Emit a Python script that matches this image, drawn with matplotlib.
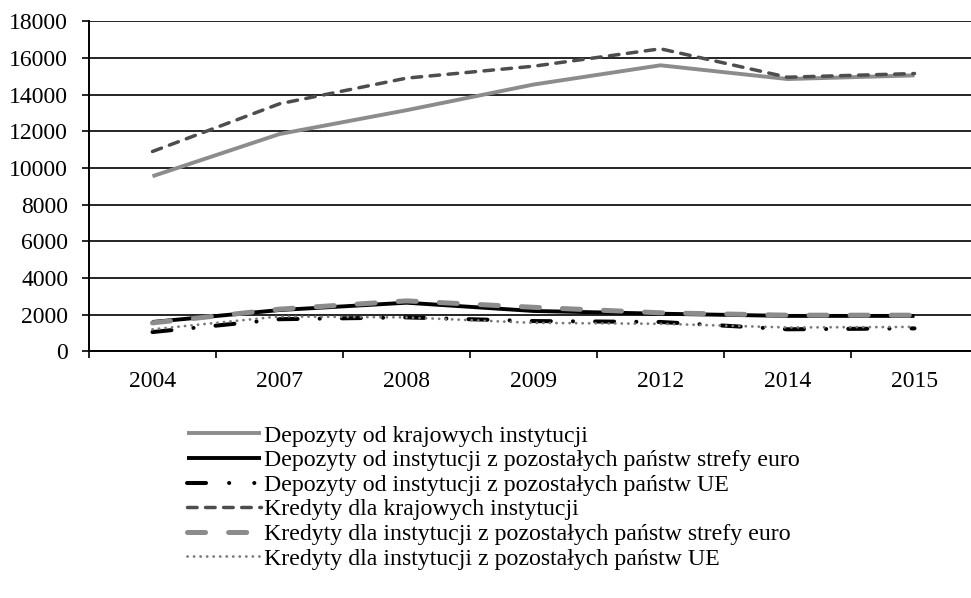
import numpy as np
import matplotlib
matplotlib.use("Agg")
import matplotlib.pyplot as plt

plt.rcParams['font.family'] = ['Liberation Serif', 'DejaVu Serif']
plt.rcParams['lines.scale_dashes'] = False

# data
years = ['2004', '2007', '2008', '2009', '2012', '2014', '2015']
dep_kraj = [9550, 11850, 13150, 14550, 15600, 14850, 15050]
dep_euro = [1600, 2250, 2650, 2200, 2050, 1930, 1930]
dep_ue = [1050, 1750, 1850, 1650, 1600, 1200, 1250]
kred_kraj = [10900, 13500, 14900, 15550, 16500, 14950, 15150]
kred_euro = [1550, 2300, 2750, 2400, 2100, 1970, 1970]
kred_ue = [1200, 1900, 1850, 1550, 1500, 1300, 1330]

labels = ['Depozyty od krajowych instytucji',
          'Depozyty od instytucji z pozostałych państw strefy euro',
          'Depozyty od instytucji z pozostałych państw UE',
          'Kredyty dla krajowych instytucji',
          'Kredyty dla instytucji z pozostałych państw strefy euro',
          'Kredyty dla instytucji z pozostałych państw UE']

fig = plt.figure(figsize=(9.71, 5.98), dpi=100)
ax = fig.add_axes([89/971, 1-351.3/598, 889/971, 330/598])

x = np.arange(len(years))

ax.plot(x, dep_kraj, color='#8c8c8c', lw=2.8, solid_capstyle='butt', label=labels[0])
ax.plot(x, dep_euro, color='black', lw=2.8, solid_capstyle='butt', label=labels[1])
ax.plot(x, dep_ue, color='black', lw=2.9, dash_capstyle='round',
        linestyle=(0, (13.7, 15.9, 0.1, 15.9)), label=labels[2])
ax.plot(x, kred_kraj, color='#4d4d4d', lw=2.5, dash_capstyle='round',
        linestyle=(0, (6.9, 6.1)), label=labels[3])
ax.plot(x, kred_euro, color='#8c8c8c', lw=3.6, dash_capstyle='round',
        linestyle=(0, (13.0, 16.6)), label=labels[4])
ax.plot(x, kred_ue, color='#7a7a7a', lw=2.0, dash_capstyle='round',
        linestyle=(0, (0.1, 4.6)), label=labels[5])

ax.set_xlim(-0.5, 6.5)
ax.set_ylim(0, 18000)
ax.set_yticks(np.arange(0, 18001, 2000))
ax.set_xticks(x)
ax.set_xticklabels(years)
ax.set_xticks(np.arange(-0.5, 7, 1), minor=True)
ax.tick_params(axis='x', which='major', length=0, pad=14, labelsize=17)
ax.tick_params(axis='x', which='minor', length=5, width=1.2, direction='out')
ax.tick_params(axis='y', length=5, width=1.2, pad=10, labelsize=17)

ax.yaxis.grid(True, color='black', lw=1.2)
ax.set_axisbelow(True)
for s in ['top', 'right']:
    ax.spines[s].set_visible(False)
ax.spines['left'].set_linewidth(1.4)
ax.spines['bottom'].set_linewidth(1.4)

leg = fig.legend(loc='upper left', bbox_to_anchor=(187/971, 1-425/598),
                 frameon=False, fontsize=17.2, handlelength=3.1, handletextpad=0.13,
                 labelspacing=0.12, borderpad=0, borderaxespad=0)
# legend sample of the dash-dot line shows dash, dot, dot
leg.get_lines()[2].set_linestyle((0, (13.7, 16.6, 0.1, 18, 0.1, 20)))

fig.savefig('out.png', dpi=100)
